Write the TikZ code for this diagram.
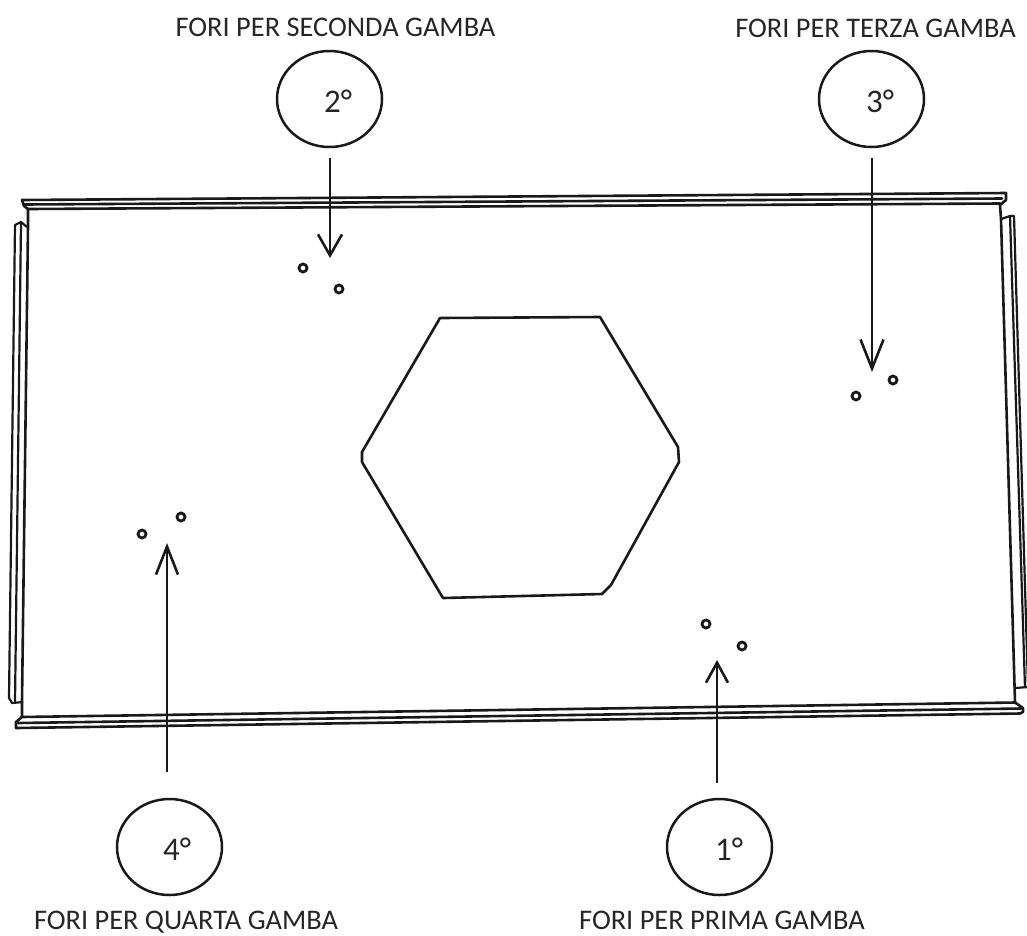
\documentclass[tikz,border=0pt]{standalone}
\usepackage{fontspec}
\setmainfont{Carlito}
\usetikzlibrary{arrows.meta,shapes.geometric}
\tikzset{
  ln/.style={line width=2.6pt,color=black!90,line join=round,line cap=round},
  thinln/.style={line width=2.2pt,color=black!90,line join=round},
  badge/.style={draw=black!90,line width=2.5pt,ellipse,inner sep=0pt,minimum width=105pt,minimum height=96pt},
  ordinal/.style={font=\fontsize{33}{36}\selectfont,inner sep=0pt,text=black!85,anchor=base},
  captext/.style={font=\fontsize{28.4}{32}\selectfont,inner sep=0pt,text=black!85,anchor=base},
  hole/.style={draw=black!90,line width=2.8pt,circle,minimum size=8pt,inner sep=0pt},
  arr/.style={draw=black!90,line width=2.6pt},
}
\begin{document}
\begin{tikzpicture}[x=1pt,y=-1pt]
\useasboundingbox (0,0) rectangle (1027,935);
% top flange
\draw[ln] (28,226) -- (28,209) -- (24,206) -- (22,200) -- (1006,193) -- (1006,200) -- (1000,205) -- (1001,219);
\draw[ln] (24,204.5) -- (1002,198.5);
\draw[ln] (28,209) -- (1000,203.5);
% bottom flange
\draw[ln] (22,702) -- (22,717) -- (16,722) -- (16,728) -- (1020,713.5) -- (1023,712) -- (1023,708) -- (1015,702.5) -- (21,717);
\draw[ln] (18,723) -- (1021,708.5);
% walls
\draw[ln] (28,226) -- (22,702);
\draw[ln] (1001,219) -- (1015,702.5);
% left tab
\draw[thinln] (27,227) -- (21,222) -- (15,225) -- (9,698) -- (12,703) -- (23,702);
\draw[thinln] (21,223) -- (15,703);
% right tab
\draw[thinln] (1001,219) -- (1010,216) -- (1014,216) -- (1028,688);
\draw[thinln] (1010,216) -- (1025,688);
\draw[thinln] (1015,688) -- (1028,687);
% hexagon
\draw[ln] (440,318) -- (600,317) -- (678,447) -- (679,462) -- (611,585) -- (602,594) -- (443,598) -- (362,462) -- (362,452) -- cycle;
% holes
\node[hole] (h2a) at (303,268) {};
\node[hole] (h2b) at (339,289) {};
\node[hole] (h3a) at (856,396) {};
\node[hole] (h3b) at (893,380) {};
\node[hole] (h4a) at (142,534) {};
\node[hole] (h4b) at (181,517) {};
\node[hole] (h1a) at (706,624) {};
\node[hole] (h1b) at (742,646) {};
% badges
\node[badge] (c2) at (329.5,99) {};
\node[badge] (c3) at (871.5,99) {};
\node[badge] (c4) at (169.5,847) {};
\node[badge] (c1) at (719.5,847) {};
\node[ordinal] (n2) at (338,112) {2°};
\node[ordinal] (n3) at (880,112) {3°};
\node[ordinal] (n4) at (177,860) {4°};
\node[ordinal] (n1) at (729,860) {1°};
% targets
\coordinate (t2) at (330,258);
\coordinate (t3) at (872,372);
\coordinate (t4) at (167,543);
\coordinate (t1) at (717,660);
\coordinate (s2) at (330,158);
\coordinate (s3) at (872,158);
\coordinate (s4) at (167,772);
\coordinate (s1) at (717,783);
\draw[arr,-{Straight Barb[length=21pt,width=24pt,line width=2.6pt]}] (s2) -- (t2);
\draw[arr,-{Straight Barb[length=29pt,width=23pt,line width=2.6pt]}] (s3) -- (t3);
\draw[arr,-{Straight Barb[length=28pt,width=22pt,line width=2.6pt]}] (s4) -- (t4);
\draw[arr,-{Straight Barb[length=20pt,width=22pt,line width=2.6pt]}] (s1) -- (t1);
% captions
\node[captext] (l2) at (335.5,36) {FORI PER SECONDA GAMBA};
\node[captext] (l3) at (875.5,37) {FORI PER TERZA GAMBA};
\node[captext] (l4) at (186,929) {FORI PER QUARTA GAMBA};
\node[captext] (l1) at (722,929) {FORI PER PRIMA GAMBA};
\end{tikzpicture}
\end{document}
